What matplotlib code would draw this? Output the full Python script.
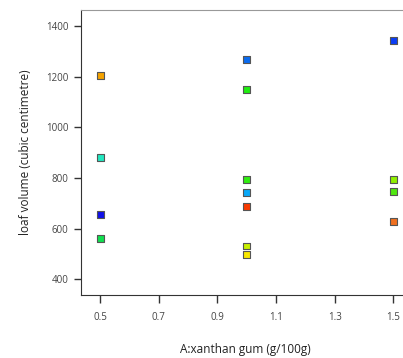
import numpy as np
import matplotlib
matplotlib.use("Agg")
import matplotlib.pyplot as plt

# design points: xanthan gum level vs loaf volume
xanthan = [0.5, 0.5, 0.5, 0.5,
           1.0, 1.0, 1.0, 1.0, 1.0, 1.0, 1.0,
           1.5, 1.5, 1.5, 1.5]
volume = [1205, 881, 654, 559,
          1268, 1150, 793, 741, 687, 531, 497,
          1345, 795, 745, 629]
colors = ['#f5a300', '#22e8c0', '#1010e8', '#10e050',
          '#0a6cf0', '#20ee10', '#30ee10', '#08a8f8', '#f83a00', '#c8f000', '#f8e800',
          '#0a3cf5', '#90f000', '#50e810', '#f07020']

xticks = [0.5, 0.7, 0.9, 1.1, 1.3, 1.5]
yticks = [400, 600, 800, 1000, 1200, 1400]

plt.rcParams['font.family'] = ['Open Sans', 'DejaVu Sans']

fig = plt.figure(figsize=(4.03, 3.58), dpi=100)
ax = fig.add_axes([0.201, 0.176, 0.817, 0.796])

ax.scatter(xanthan, volume, marker='s', s=25, c=colors,
           edgecolors='#555555', linewidths=0.8, zorder=3)

ax.set_xlim(0.435, 1.558)
ax.set_ylim(337, 1465)
ax.set_xticks(xticks)
ax.set_xticklabels([str(t) for t in xticks])
ax.set_yticks(yticks)

ax.spines['right'].set_visible(False)
ax.spines['top'].set_color('#999999')
ax.spines['left'].set_color('#333333')
ax.spines['bottom'].set_color('#333333')
ax.tick_params(axis='x', direction='out', length=6, width=1, colors='#333333',
               labelsize=7, labelcolor='#444444', pad=6)
ax.tick_params(axis='y', direction='out', length=5, width=1, colors='#333333',
               labelsize=7, labelcolor='#444444', pad=4)

ax.set_xlabel('A:xanthan gum (g/100g)', fontsize=8.5, color='#222222', labelpad=15)
ax.set_ylabel('loaf volume (cubic centimetre)', fontsize=8.5, color='#222222', labelpad=10)

fig.savefig('out.png', dpi=100)
